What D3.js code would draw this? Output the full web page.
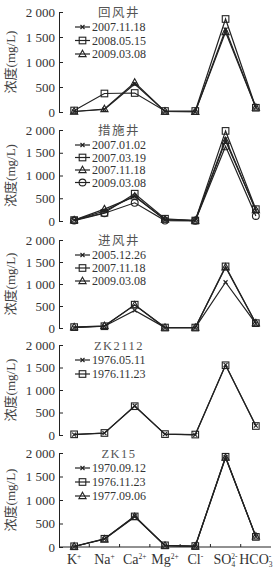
<!DOCTYPE html>
<html>
<head>
<meta charset="utf-8">
<title>浓度</title>
<script src="https://cdn.jsdelivr.net/npm/d3@7"></script>
<style>
body {margin:0; background:#fff;}
svg {display:block;}
</style>
</head>
<body>
<script>

// ions along the x axis
var ions    = ["K", "Na", "Ca", "Mg", "Cl", "SO4", "HCO3"];
var ionName = ["K", "Na", "Ca", "Mg", "Cl", "SO", "HCO"];
var ionSub  = ["", "", "", "", "", "4", "3"];
var ionSup  = ["+", "+", "2+", "2+", "-", "2-", "-"];

var yTicks = [0, 500, 1000, 1500, 2000];

var wells = ["回风井", "措施井", "进风井", "ZK2112", "ZK15"];

// 回风井
var huifengDates  = ["2007.11.18", "2008.05.15", "2009.03.08"];
var huifengValues = [
  [10, 50, 560, 10, 5, 1650, 90],
  [30, 370, 380, 20, 20, 1860, 85],
  [10, 60, 590, 10, 5, 1600, 90]
];

// 措施井
var cuoshiDates  = ["2007.01.02", "2007.03.19", "2007.11.18", "2009.03.08"];
var cuoshiValues = [
  [20, 220, 550, 30, 10, 1800, 230],
  [20, 180, 600, 50, 10, 1980, 260],
  [20, 260, 540, 30, 10, 1760, 240],
  [10, 170, 400, 10, 5, 1640, 110]
];

// 进风井
var jinfengDates  = ["2005.12.26", "2007.11.18", "2009.03.08"];
var jinfengValues = [
  [10, 40, 400, 10, 10, 1040, 100],
  [20, 40, 530, 10, 10, 1400, 110],
  [20, 50, 520, 10, 10, 1380, 110]
];

// ZK2112
var zk2112Dates  = ["1976.05.11", "1976.11.23"];
var zk2112Values = [
  [10, 40, 650, 20, 5, 1560, 210],
  [15, 45, 640, 20, 10, 1550, 200]
];

// ZK15
var zk15Dates  = ["1970.09.12", "1976.11.23", "1977.09.06"];
var zk15Values = [
  [10, 170, 660, 30, 15, 1910, 220],
  [15, 175, 650, 35, 20, 1920, 215],
  [10, 165, 640, 30, 15, 1900, 225]
];

var wellDates  = [huifengDates, cuoshiDates, jinfengDates, zk2112Dates, zk15Dates];
var wellValues = [huifengValues, cuoshiValues, jinfengValues, zk2112Values, zk15Values];
var wellSymbols = [
  ["cross", "square", "triangle"],
  ["cross", "square", "triangle", "circle"],
  ["cross", "square", "triangle"],
  ["cross", "square"],
  ["cross", "square", "triangle"]
];

// panel placement (top = 2000 line, bottom = 0 line)
var panelTop    = [12, 130, 240, 345, 453];
var panelBottom = [112, 221, 328, 435, 547];
var rowStep     = [13.5, 12.5, 13, 14, 14];

var W = 276, H = 570;
var serif = "'Liberation Serif', 'Times New Roman', serif";
var cjk = "'Liberation Serif', 'Noto Sans CJK SC', serif";
var ink = "#222";

var svg = d3.select("body").append("svg")
  .attr("width", W)
  .attr("height", H);

var x = d3.scaleBand()
  .domain(ions)
  .range([59, 271]);

function cx(d) { return x(d) + x.bandwidth() / 2; }

function marker(g, type, px, py) {
  if (type == "cross") {
    g.append("path")
      .attr("d", "M" + (px - 2) + "," + (py - 2) + "L" + (px + 2) + "," + (py + 2) +
                 "M" + (px - 2) + "," + (py + 2) + "L" + (px + 2) + "," + (py - 2))
      .attr("stroke", ink).attr("stroke-width", 1.1).attr("fill", "none");
  } else if (type == "square") {
    g.append("rect")
      .attr("x", px - 3.3).attr("y", py - 3.3)
      .attr("width", 6.6).attr("height", 6.6)
      .attr("stroke", ink).attr("stroke-width", 1.1).attr("fill", "none");
  } else if (type == "triangle") {
    g.append("path")
      .attr("d", "M" + px + "," + (py - 3.8) + "L" + (px + 3.6) + "," + (py + 2.6) +
                 "L" + (px - 3.6) + "," + (py + 2.6) + "Z")
      .attr("stroke", ink).attr("stroke-width", 1.1).attr("fill", "none");
  } else {
    g.append("circle")
      .attr("cx", px).attr("cy", py).attr("r", 3.4)
      .attr("stroke", ink).attr("stroke-width", 1.1).attr("fill", "none");
  }
}

var fmt = function (d) { return d3.format(",")(d).replace(",", " "); };

wells.forEach(function (well, p) {
  var y = d3.scaleLinear()
    .domain([0, 2000])
    .range([panelBottom[p], panelTop[p]]);

  var g = svg.append("g");

  // y axis, ticks pointing inward
  var ax = g.append("g")
    .attr("transform", "translate(59,0)")
    .call(d3.axisLeft(y).tickValues(yTicks).tickFormat(fmt)
      .tickSizeInner(-4).tickSizeOuter(0).tickPadding(4));
  ax.select(".domain").attr("stroke", ink);
  ax.selectAll(".tick line").attr("stroke", ink);
  ax.selectAll("text")
    .attr("font-family", serif)
    .attr("font-size", "13px")
    .attr("fill", "#333");

  // y title
  g.append("text")
    .attr("transform", "translate(15," + ((panelTop[p] + panelBottom[p]) / 2) + ") rotate(-90)")
    .attr("text-anchor", "middle")
    .attr("font-family", cjk)
    .attr("font-size", "13px")
    .attr("fill", "#444")
    .text("浓度(mg/L)");

  // lines
  var line = d3.line()
    .x(function (d, i) { return cx(ions[i]); })
    .y(function (d) { return y(d); });

  wellValues[p].forEach(function (vals) {
    g.append("path")
      .datum(vals)
      .attr("d", line)
      .attr("fill", "none")
      .attr("stroke", ink)
      .attr("stroke-width", 1.2);
  });
  wellValues[p].forEach(function (vals, s) {
    vals.forEach(function (v, i) {
      marker(g, wellSymbols[p][s], cx(ions[i]), y(v));
    });
  });

  // legend
  g.append("text")
    .attr("x", 119)
    .attr("y", panelTop[p] + 1)
    .attr("dy", "0.35em")
    .attr("text-anchor", "middle")
    .attr("font-family", cjk)
    .attr("font-size", "12.5px")
    .attr("letter-spacing", "1.5px")
    .attr("fill", "#555")
    .text(well);

  wellDates[p].forEach(function (date, s) {
    var ly = panelTop[p] + 15 + s * rowStep[p];
    g.append("line")
      .attr("x1", 75).attr("x2", 90)
      .attr("y1", ly).attr("y2", ly)
      .attr("stroke", ink).attr("stroke-width", 1.2);
    marker(g, wellSymbols[p][s], 82.5, ly);
    g.append("text")
      .attr("x", 92)
      .attr("y", ly)
      .attr("dy", "0.35em")
      .attr("font-family", serif)
      .attr("font-size", "12px")
      .attr("fill", "#333")
      .text(date);
  });

  // bottom axis only under the last panel
  if (p == wells.length - 1) {
    var yb = panelBottom[p];
    g.append("line")
      .attr("x1", 59).attr("x2", 271)
      .attr("y1", yb).attr("y2", yb)
      .attr("stroke", ink);
    g.selectAll(".xt")
      .data(ions.slice(1))
      .enter().append("line")
      .attr("x1", function (d) { return x(d); })
      .attr("x2", function (d) { return x(d); })
      .attr("y1", yb).attr("y2", yb - 3)
      .attr("stroke", ink);

    var lab = g.selectAll(".xl")
      .data(ions)
      .enter().append("text")
      .attr("x", function (d) { return cx(d); })
      .attr("y", yb + 17)
      .attr("text-anchor", "middle")
      .attr("font-family", serif)
      .attr("font-size", "14px")
      .attr("fill", "#333");
    lab.append("tspan").text(function (d, i) { return ionName[i]; });
    lab.append("tspan")
      .attr("font-size", "7.5px")
      .attr("dy", 3)
      .text(function (d, i) { return ionSub[i]; });
    lab.append("tspan")
      .attr("font-size", "7.5px")
      .attr("dx", function (d, i) { return ionSub[i] ? -3.8 : 0; })
      .attr("dy", function (d, i) { return ionSub[i] ? -8.5 : -5.5; })
      .text(function (d, i) { return ionSup[i]; });
  }
});

</script>
</body>
</html>
